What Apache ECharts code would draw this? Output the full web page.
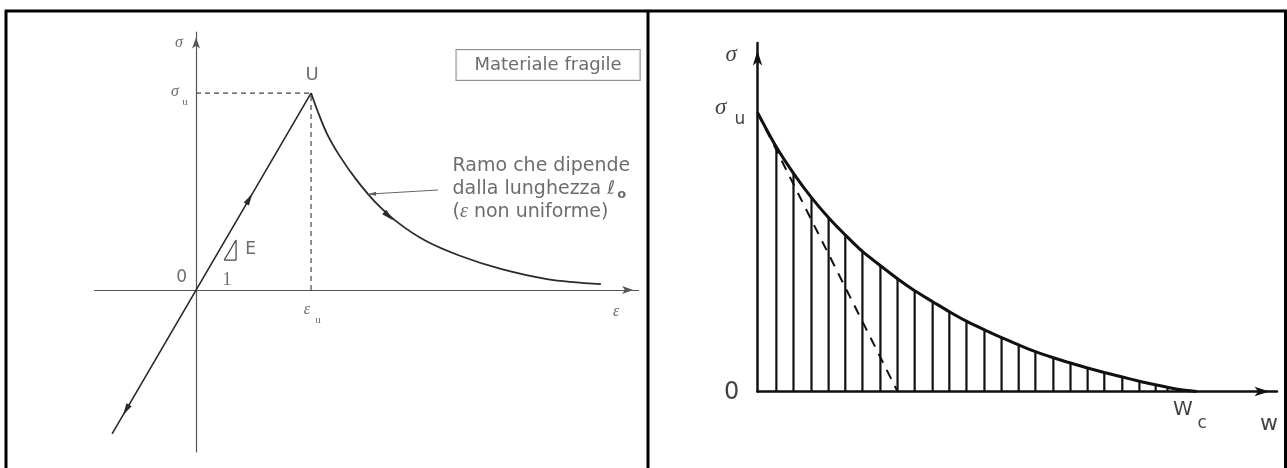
<!DOCTYPE html>
<html>
<head>
<meta charset="utf-8">
<script src="https://cdn.jsdelivr.net/npm/echarts@6/dist/echarts.min.js"></script>
<style>
  html, body { margin: 0; padding: 0; background: #fff; }
  #chart { width: 1287px; height: 468px; }
</style>
</head>
<body>
<div id="chart"></div>
<script>
// ---- Left diagram: brittle material, stress σ vs strain ε (ε_u = 1, σ_u = 1) ----
const elasticStrain = [-0.73, 0, 1];
const elasticStress = [-0.73, 0, 1];
const softeningStrain = [1.00, 1.06, 1.14, 1.25, 1.39, 1.55, 1.75, 2.00, 2.30, 2.65, 3.05, 3.52];
const softeningStress = [1.000, 0.904, 0.792, 0.680, 0.563, 0.452, 0.345, 0.249, 0.173, 0.107, 0.056, 0.030];
// slope triangle "E / 1" next to the elastic line
const slopeStrain = [0.245, 0.348, 0.348, 0.245];
const slopeStress = [0.152, 0.152, 0.254, 0.152];
// direction arrows along the path: [fromε, fromσ, toε, toσ]
const loadArrows = [
  [0.40, 0.40, 0.49, 0.49],
  [-0.55, -0.55, -0.635, -0.635],
  [1.613, 0.409, 1.713, 0.355]
];
// leader from the note to the softening branch
const leaderStrain = [2.104, 1.496];
const leaderStress = [0.508, 0.487];

// ---- Right diagram: cohesive law σ(w), w_c = 1, σ_u = 1 ----
const crackOpening = [0, 0.043, 0.082, 0.123, 0.162, 0.200, 0.239, 0.280, 0.319, 0.358, 0.399,
  0.437, 0.476, 0.517, 0.556, 0.595, 0.633, 0.674, 0.713, 0.752, 0.790, 0.831, 0.870, 0.907,
  0.934, 0.957, 1.0];
const cohesiveStress = [1.000, 0.876, 0.782, 0.695, 0.623, 0.561, 0.502, 0.451, 0.404, 0.361, 0.322,
  0.286, 0.252, 0.221, 0.193, 0.167, 0.143, 0.121, 0.102, 0.084, 0.068, 0.052, 0.037, 0.024,
  0.015, 0.008, 0];
const tangentOpening = [0, 0.319];
const tangentStress = [1, 0];

// ---- texts ----
const boxTitle = 'Materiale fragile';
const branchNote = ['Ramo che dipende', 'dalla lunghezza ℓ{s|o}', '({e|ε} non uniforme)'];

const zip = (a, b) => a.map((v, i) => [v, b[i]]);

const INK_L = '#2a2a2a';
const TEXT_L = '#474747';
const INK_R = '#111';
const SANS = 'DejaVu Sans';
const SERIF = 'Liberation Serif';

function arrowHead(len, wid, color) {
  return function (params, api) {
    const a = api.coord([api.value(0), api.value(1)]);
    const b = api.coord([api.value(2), api.value(3)]);
    const dx = b[0] - a[0], dy = b[1] - a[1];
    const d = Math.hypot(dx, dy) || 1;
    const ux = dx / d, uy = dy / d;
    const bx = b[0] - ux * len, by = b[1] - uy * len;
    return {
      type: 'polygon',
      shape: { points: [[b[0], b[1]], [bx - uy * wid / 2, by + ux * wid / 2], [bx + uy * wid / 2, by - ux * wid / 2]] },
      style: { fill: color }
    };
  };
}

function mark(x, y, text, style) {
  return { value: [x, y], label: Object.assign({ show: true, formatter: text, position: 'inside' }, style) };
}

const leftLabels = [
  mark(-0.148, 1.254, 'σ', { fontFamily: SERIF, fontStyle: 'italic', fontSize: 16, color: TEXT_L }),
  mark(-0.183, 1.005, 'σ', { fontFamily: SERIF, fontStyle: 'italic', fontSize: 16, color: TEXT_L }),
  mark(-0.096, 0.954, 'u', { fontFamily: SERIF, fontSize: 11, color: TEXT_L }),
  mark(1.009, 1.091, 'U', { fontFamily: SANS, fontSize: 18, color: TEXT_L }),
  mark(0.965, -0.102, 'ε', { fontFamily: SERIF, fontStyle: 'italic', fontSize: 16, color: TEXT_L }),
  mark(1.061, -0.152, 'u', { fontFamily: SERIF, fontSize: 11, color: TEXT_L }),
  mark(3.652, -0.112, 'ε', { fontFamily: SERIF, fontStyle: 'italic', fontSize: 16, color: TEXT_L }),
  mark(-0.124, 0.061, '0', { fontFamily: SANS, fontSize: 17, color: TEXT_L }),
  mark(0.27, 0.051, '1', { fontFamily: SERIF, fontSize: 18, color: TEXT_L }),
  mark(0.475, 0.203, 'E', { fontFamily: SANS, fontSize: 17, color: TEXT_L }),
  mark(3.061, 1.142, boxTitle, {
    fontFamily: SANS, fontSize: 18, color: TEXT_L, backgroundColor: '#fff',
    borderColor: '#777', borderWidth: 1, padding: [6, 18, 6, 18]
  }),
  mark(2.226, 0.513, branchNote.join('\n'), {
    position: 'right', distance: 0, fontFamily: SANS, fontSize: 19, lineHeight: 23, color: TEXT_L,
    rich: {
      s: { fontFamily: SANS, fontSize: 13, fontWeight: 'bold', color: TEXT_L, lineHeight: 23, padding: [12, 0, 0, 2] },
      e: { fontFamily: SERIF, fontStyle: 'italic', fontSize: 20, color: TEXT_L, lineHeight: 23 }
    }
  })
];

const rightLabels = [
  mark(-0.060, 1.206, 'σ', { fontFamily: SERIF, fontStyle: 'italic', fontSize: 23, color: INK_R }),
  mark(-0.084, 1.015, 'σ', { fontFamily: SERIF, fontStyle: 'italic', fontSize: 23, color: INK_R }),
  mark(-0.040, 0.973, 'u', { fontFamily: SANS, fontSize: 17, color: INK_R }),
  mark(-0.059, -0.006, '0', { fontFamily: SANS, fontSize: 24, color: INK_R }),
  mark(0.969, -0.066, 'W', { fontFamily: SANS, fontSize: 20, color: INK_R }),
  mark(1.013, -0.116, 'c', { fontFamily: SANS, fontSize: 17, color: INK_R }),
  mark(1.165, -0.116, 'w', { fontFamily: SANS, fontSize: 22, color: INK_R })
];

function valueAxis(idx, min, max, color, width, arrow) {
  return {
    type: 'value', gridIndex: idx, min: min, max: max,
    axisLine: {
      show: true, onZero: true,
      lineStyle: { color: color, width: width },
      symbol: ['none', 'arrow'], symbolSize: arrow, symbolOffset: [0, -arrow[1] / 2]
    },
    axisTick: { show: false }, axisLabel: { show: false }, splitLine: { show: false }
  };
}

const chart = echarts.init(document.getElementById('chart'), null, { renderer: 'canvas' });

chart.setOption({
  animation: false,
  backgroundColor: '#fff',
  grid: [
    { left: 94.6, top: 32, width: 544, height: 420 },
    { left: 757.5, top: 43, width: 519.5, height: 348.5 }
  ],
  xAxis: [
    valueAxis(0, -0.882, 3.848, '#555', 1.2, [6, 11]),
    valueAxis(1, 0, 1.1834, INK_R, 2.5, [7, 15])
  ],
  yAxis: [
    valueAxis(0, -0.822, 1.310, '#555', 1.2, [6, 11]),
    valueAxis(1, 0, 1.2491, INK_R, 2.5, [7, 15])
  ],
  graphic: [
    { type: 'line', shape: { x1: 5, y1: 11, x2: 1287, y2: 11 }, style: { stroke: '#000', lineWidth: 3 } },
    { type: 'line', shape: { x1: 6, y1: 10, x2: 6, y2: 468 }, style: { stroke: '#000', lineWidth: 3 } },
    { type: 'line', shape: { x1: 648, y1: 10, x2: 648, y2: 468 }, style: { stroke: '#000', lineWidth: 3 } },
    { type: 'line', shape: { x1: 1285.5, y1: 10, x2: 1285.5, y2: 468 }, style: { stroke: '#000', lineWidth: 3 } }
  ],
  series: [
    // ---- left ----
    {
      type: 'line', xAxisIndex: 0, yAxisIndex: 0, showSymbol: false, silent: true,
      data: [[0, softeningStress[0]], [softeningStrain[0], softeningStress[0]]],
      lineStyle: { color: '#444', width: 1.2, type: [5, 4] }
    },
    {
      type: 'line', xAxisIndex: 0, yAxisIndex: 0, showSymbol: false, silent: true,
      data: [[softeningStrain[0], 0], [softeningStrain[0], softeningStress[0]]],
      lineStyle: { color: '#444', width: 1.2, type: [5, 4] }
    },
    {
      type: 'line', xAxisIndex: 0, yAxisIndex: 0, showSymbol: false, silent: true,
      data: zip(elasticStrain, elasticStress),
      lineStyle: { color: INK_L, width: 1.6 }
    },
    {
      type: 'line', xAxisIndex: 0, yAxisIndex: 0, showSymbol: false, silent: true, smooth: 0.35,
      data: zip(softeningStrain, softeningStress),
      lineStyle: { color: INK_L, width: 1.8 }
    },
    {
      type: 'line', xAxisIndex: 0, yAxisIndex: 0, showSymbol: false, silent: true,
      data: zip(slopeStrain, slopeStress),
      lineStyle: { color: '#444', width: 1.2 }
    },
    {
      type: 'line', xAxisIndex: 0, yAxisIndex: 0, showSymbol: false, silent: true,
      data: zip(leaderStrain, leaderStress),
      lineStyle: { color: '#666', width: 1 }
    },
    {
      type: 'custom', xAxisIndex: 0, yAxisIndex: 0, silent: true,
      renderItem: arrowHead(12, 6, INK_L),
      encode: { x: [0, 2], y: [1, 3] },
      data: loadArrows
    },
    {
      type: 'custom', xAxisIndex: 0, yAxisIndex: 0, silent: true,
      renderItem: arrowHead(8, 4, '#555'),
      encode: { x: [0, 2], y: [1, 3] },
      data: [[leaderStrain[0], leaderStress[0], leaderStrain[1], leaderStress[1]]]
    },
    {
      type: 'scatter', xAxisIndex: 0, yAxisIndex: 0, silent: true, clip: false,
      symbolSize: 1, itemStyle: { color: 'rgba(0,0,0,0)' },
      data: leftLabels
    },
    // ---- right ----
    {
      type: 'custom', xAxisIndex: 1, yAxisIndex: 1, silent: true,
      renderItem: function (params, api) {
        const top = api.coord([api.value(0), api.value(1)]);
        const base = api.coord([api.value(0), 0]);
        return {
          type: 'line',
          shape: { x1: top[0], y1: top[1], x2: base[0], y2: base[1] },
          style: { stroke: INK_R, lineWidth: 2.2 }
        };
      },
      encode: { x: 0, y: 1 },
      data: zip(crackOpening, cohesiveStress).slice(1, -1)
    },
    {
      type: 'line', xAxisIndex: 1, yAxisIndex: 1, showSymbol: false, silent: true,
      data: zip(tangentOpening, tangentStress),
      lineStyle: { color: INK_R, width: 2, type: [10, 8] }
    },
    {
      type: 'line', xAxisIndex: 1, yAxisIndex: 1, showSymbol: false, silent: true, smooth: 0.3,
      data: zip(crackOpening, cohesiveStress),
      lineStyle: { color: INK_R, width: 3 }
    },
    {
      type: 'scatter', xAxisIndex: 1, yAxisIndex: 1, silent: true, clip: false,
      symbolSize: 1, itemStyle: { color: 'rgba(0,0,0,0)' },
      data: rightLabels
    }
  ]
});
</script>
</body>
</html>
